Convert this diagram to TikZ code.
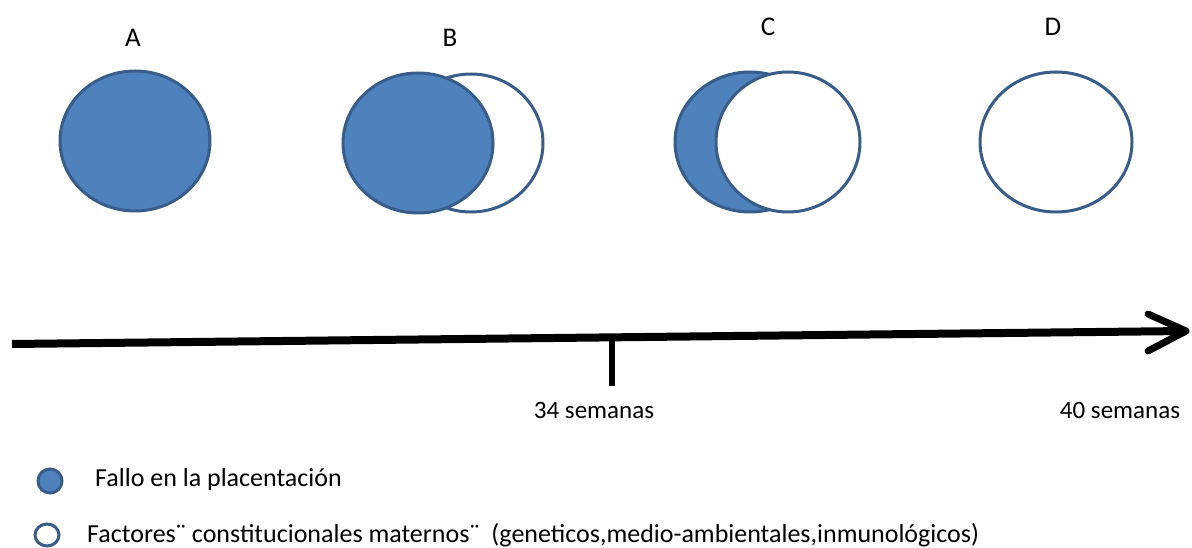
\documentclass[tikz,border=0pt]{standalone}
\usepackage{fontspec}
\setmainfont{Carlito}
\definecolor{fillblue}{HTML}{4F81BD}
\definecolor{edgeblue}{HTML}{385D8A}
\begin{document}
\begin{tikzpicture}[x=1pt,y=-1pt,
  empty/.style={draw=edgeblue,fill=white,line width=3pt},
  full/.style={draw=edgeblue,fill=fillblue,line width=3pt},
  letter/.style={font=\fontsize{27}{30}\selectfont},
  weeks/.style={font=\fontsize{25}{28}\selectfont},
  legend/.style={font=\fontsize{26}{30}\selectfont,anchor=west,inner sep=0pt}]
\useasboundingbox (0,0) rectangle (1192,548);
% stage A: placentation failure only
\draw[full] (135,141) ellipse [x radius=75,y radius=70];
% stage B: maternal factors behind, placentation failure in front
\draw[empty] (471,143) ellipse [x radius=72,y radius=69];
\draw[full] (418,143) ellipse [x radius=75,y radius=70];
% stage C: placentation failure behind, maternal factors in front
\draw[full] (750,142) ellipse [x radius=75,y radius=70];
\draw[empty] (788,142) ellipse [x radius=72,y radius=70];
% stage D: maternal factors only
\draw[empty] (1056,142) ellipse [x radius=76,y radius=70];
% stage letters
\node[letter] (la) at (133,38) {A};
\node[letter] (lb) at (450,38) {B};
\node[letter] (lc) at (768,27) {C};
\node[letter] (ld) at (1053,27) {D};
% time axis
\coordinate (t0) at (12,344);
\coordinate (t1) at (1186,331);
\draw[line width=8pt] (t0) -- (t1);
\draw[line width=7pt,line cap=round,line join=round] (1148,314) -- (t1) -- (1148,351);
\coordinate (k0) at (612,337);
\coordinate (k1) at (612,386);
\draw[line width=6pt] (k0) -- (k1);
\node[weeks] (w34) at (594,410) {34 semanas};
\node[weeks] (w40) at (1120,410) {40 semanas};
% legend
\draw[full] (50,481) ellipse [x radius=12,y radius=12];
\node[legend] (lg1) at (95,480) {Fallo en la placentación};
\draw[empty] (47,535) ellipse [x radius=12,y radius=11];
\node[legend] (lg2) at (87,535) {Factores¨ constitucionales maternos¨ \ (geneticos,medio-ambientales,inmunológicos)};
\end{tikzpicture}
\end{document}
